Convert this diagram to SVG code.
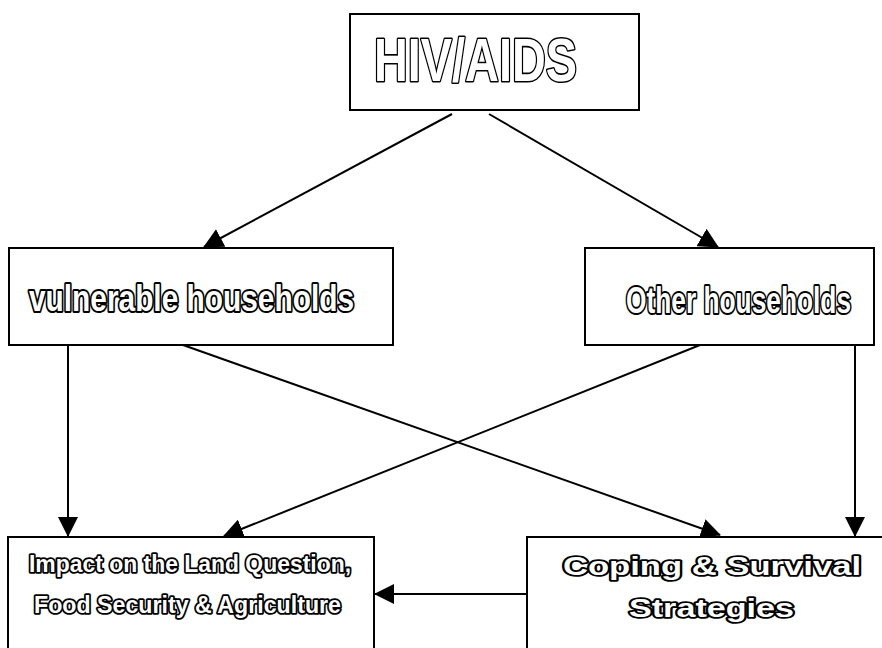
<svg xmlns="http://www.w3.org/2000/svg" width="882" height="648" viewBox="0 0 882 648">
<style>
.box{fill:#fff;stroke:#000;stroke-width:2}
.lbl{font-family:"Liberation Sans",Arial,sans-serif;font-weight:bold;fill:#fff;stroke:#000;stroke-linejoin:round;paint-order:stroke}
.big{stroke-width:3.2}
.mid{stroke-width:4}
.sm{stroke-width:3.6}
.con{fill:none;stroke:#000;stroke-width:2;marker-end:url(#ah)}
</style>
<defs>
<marker id="ah" markerUnits="userSpaceOnUse" markerWidth="20" markerHeight="20" viewBox="0 0 20 20" refX="19" refY="10" orient="auto">
<path d="M0,0 L20,10 L0,20 Z" fill="#000"/>
</marker>
</defs>
<rect width="882" height="648" fill="#fff"/>
<g id="connectors">
<line class="con" x1="452" y1="114" x2="204" y2="247"/>
<line class="con" x1="489" y1="114" x2="718" y2="247"/>
<line class="con" x1="68" y1="345" x2="68" y2="536"/>
<line class="con" x1="183" y1="345" x2="720" y2="535"/>
<line class="con" x1="700" y1="345" x2="224" y2="536"/>
<line class="con" x1="855" y1="345" x2="855" y2="536"/>
<line class="con" x1="527" y1="594" x2="375" y2="594"/>
</g>
<g id="hiv">
<rect class="box" x="350" y="14" width="289" height="96"/>
<text class="lbl big" x="374" y="81" font-size="62" textLength="203" lengthAdjust="spacingAndGlyphs">HIV/AIDS</text>
</g>
<g id="vulnerable">
<rect class="box" x="9" y="248" width="384" height="97"/>
<text class="lbl mid" x="29" y="311" font-size="36" textLength="325" lengthAdjust="spacingAndGlyphs">vulnerable households</text>
</g>
<g id="other">
<rect class="box" x="585" y="248" width="289" height="97"/>
<text class="lbl mid" transform="translate(626,313) scale(0.711,1)" x="0" y="0" font-size="37">Other households</text>
</g>
<g id="impact">
<rect class="box" x="8" y="537" width="366" height="130"/>
<text class="lbl sm" x="29" y="572" font-size="23" textLength="322" lengthAdjust="spacingAndGlyphs">Impact on the Land Question,</text>
<text class="lbl sm" x="34" y="613" font-size="23" textLength="307" lengthAdjust="spacingAndGlyphs">Food Security &amp; Agriculture</text>
</g>
<g id="coping">
<rect class="box" x="527" y="537" width="380" height="130"/>
<text class="lbl sm" x="563" y="575" font-size="25" textLength="298" lengthAdjust="spacingAndGlyphs">Coping &amp; Survival</text>
<text class="lbl sm" x="629" y="617" font-size="25" textLength="165" lengthAdjust="spacingAndGlyphs">Strategies</text>
</g>
</svg>
